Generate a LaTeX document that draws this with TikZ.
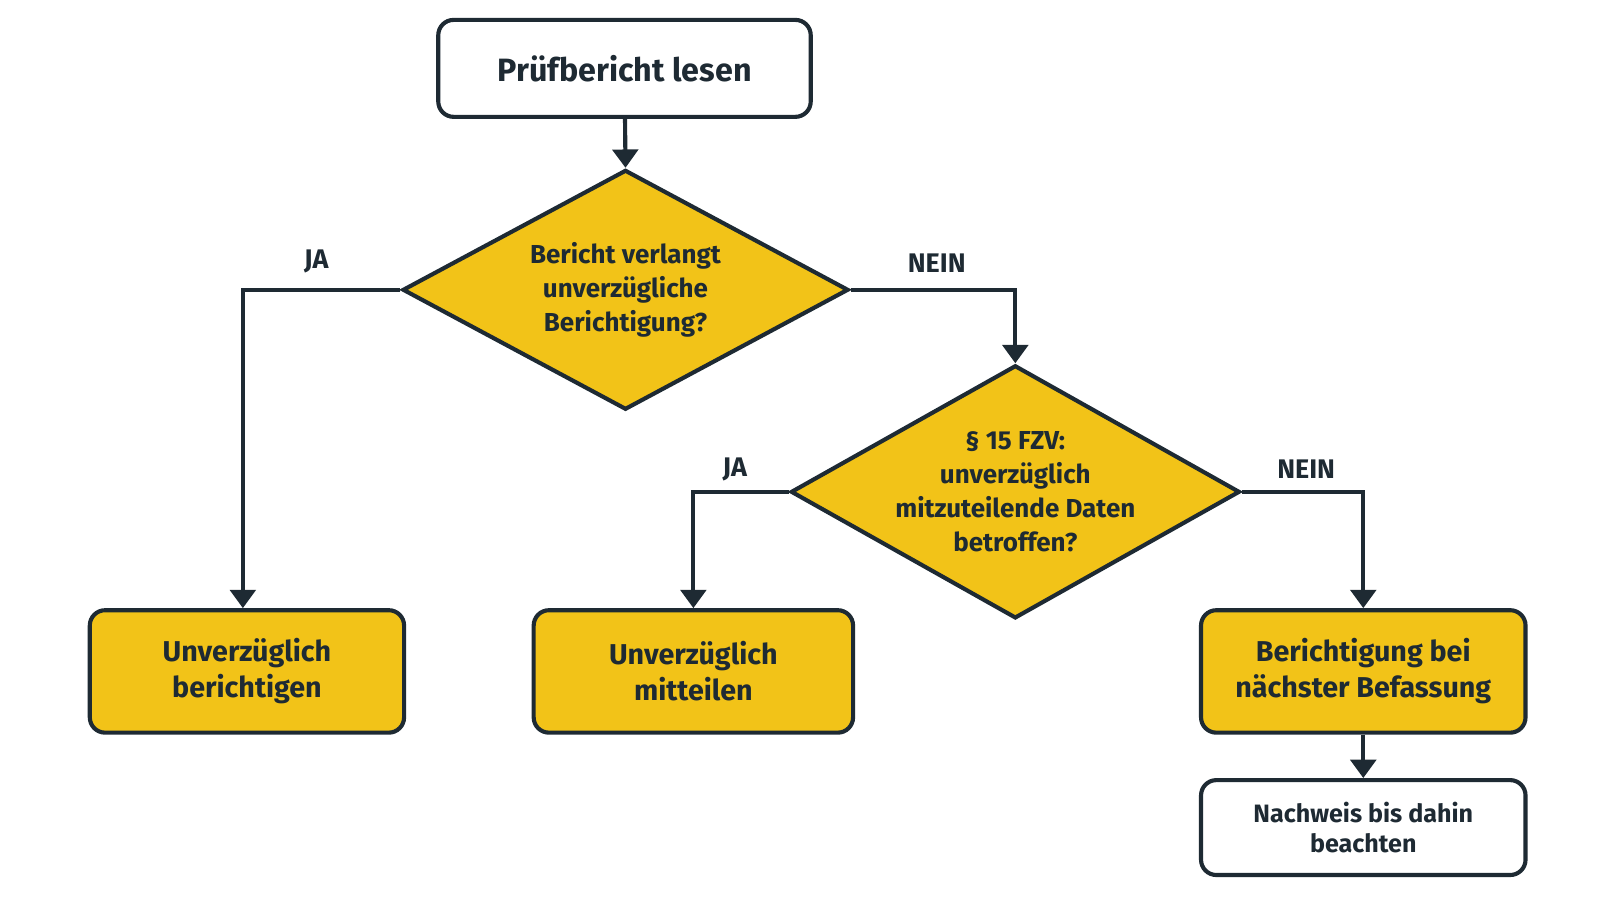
\documentclass[tikz,border=0pt]{standalone}
\usepackage{fontspec}
\setmainfont{Fira Sans}
\usetikzlibrary{shapes.geometric,arrows.meta}
\definecolor{ink}{HTML}{1E2A33}
\definecolor{gelb}{HTML}{F2C318}
\tikzset{
  box/.style={draw=ink, line width=2.3pt, rounded corners=0.3cm, align=center, text=ink, font=\bfseries},
  dec/.style={draw=ink, line width=2.3pt, diamond, fill=gelb, inner sep=0pt},
  dectext/.style={align=center, text=ink, font=\fontsize{14.5}{19}\selectfont\bfseries},
  lbl/.style={text=ink, font=\fontsize{15}{18}\selectfont\bfseries},
  flow/.style={draw=ink, line width=2.3pt, -{Triangle[length=0.36cm,width=0.5cm]}}
}
\begin{document}
\begin{tikzpicture}
  \useasboundingbox (0,0) rectangle (31.36,-17.64);
  % Knoten
  \node [box, minimum width=7.3cm, minimum height=1.9cm, fill=white,
         font=\fontsize{18}{22}\selectfont\bfseries] (lesen) at (12.24,-1.34) {Prüfbericht lesen};
  \node [dec, minimum width=8.74cm, minimum height=4.7cm] (frage1) at (12.26,-5.68) {};
  \node [dectext] at (frage1) {Bericht verlangt\\unverzügliche\\Berichtigung?};
  \node [dec, minimum width=8.8cm, minimum height=4.96cm] (frage2) at (19.9,-9.64) {};
  \node [dectext] at (frage2) {§ 15 FZV:\\unverzüglich\\mitzuteilende Daten\\betroffen?};
  \node [box, minimum width=6.16cm, minimum height=2.4cm, fill=gelb,
         font=\fontsize{16}{20}\selectfont\bfseries] (berichtigen) at (4.84,-13.16) {Unverzüglich\\berichtigen};
  \node [box, minimum width=6.26cm, minimum height=2.4cm, fill=gelb,
         font=\fontsize{16}{20}\selectfont\bfseries] (mitteilen) at (13.59,-13.16) {Unverzüglich\\mitteilen};
  \node [box, minimum width=6.36cm, minimum height=2.4cm, fill=gelb,
         font=\fontsize{16}{20}\selectfont\bfseries] (spaeter) at (26.72,-13.16) {Berichtigung bei\\nächster Befassung};
  \node [box, minimum width=6.36cm, minimum height=1.86cm, fill=white,
         font=\fontsize{14}{17}\selectfont\bfseries] (nachweis) at (26.72,-16.22) {Nachweis bis dahin\\beachten};
  % Verbindungen
  \draw [flow] (lesen) -- (frage1.north);
  \draw [flow] (frage1.west) -| (berichtigen.north -| 4.76,0);
  \draw [flow] (frage1.east) -| (frage2.north);
  \draw [flow] (frage2.west) -| (mitteilen.north);
  \draw [flow] (frage2.east) -| (spaeter.north);
  \draw [flow] (spaeter) -- (nachweis);
  % Beschriftungen
  \node [lbl] at (6.2,-5.12) {JA};
  \node [lbl] at (18.36,-5.16) {NEIN};
  \node [lbl] at (14.4,-9.2) {JA};
  \node [lbl] at (25.6,-9.2) {NEIN};
\end{tikzpicture}
\end{document}
